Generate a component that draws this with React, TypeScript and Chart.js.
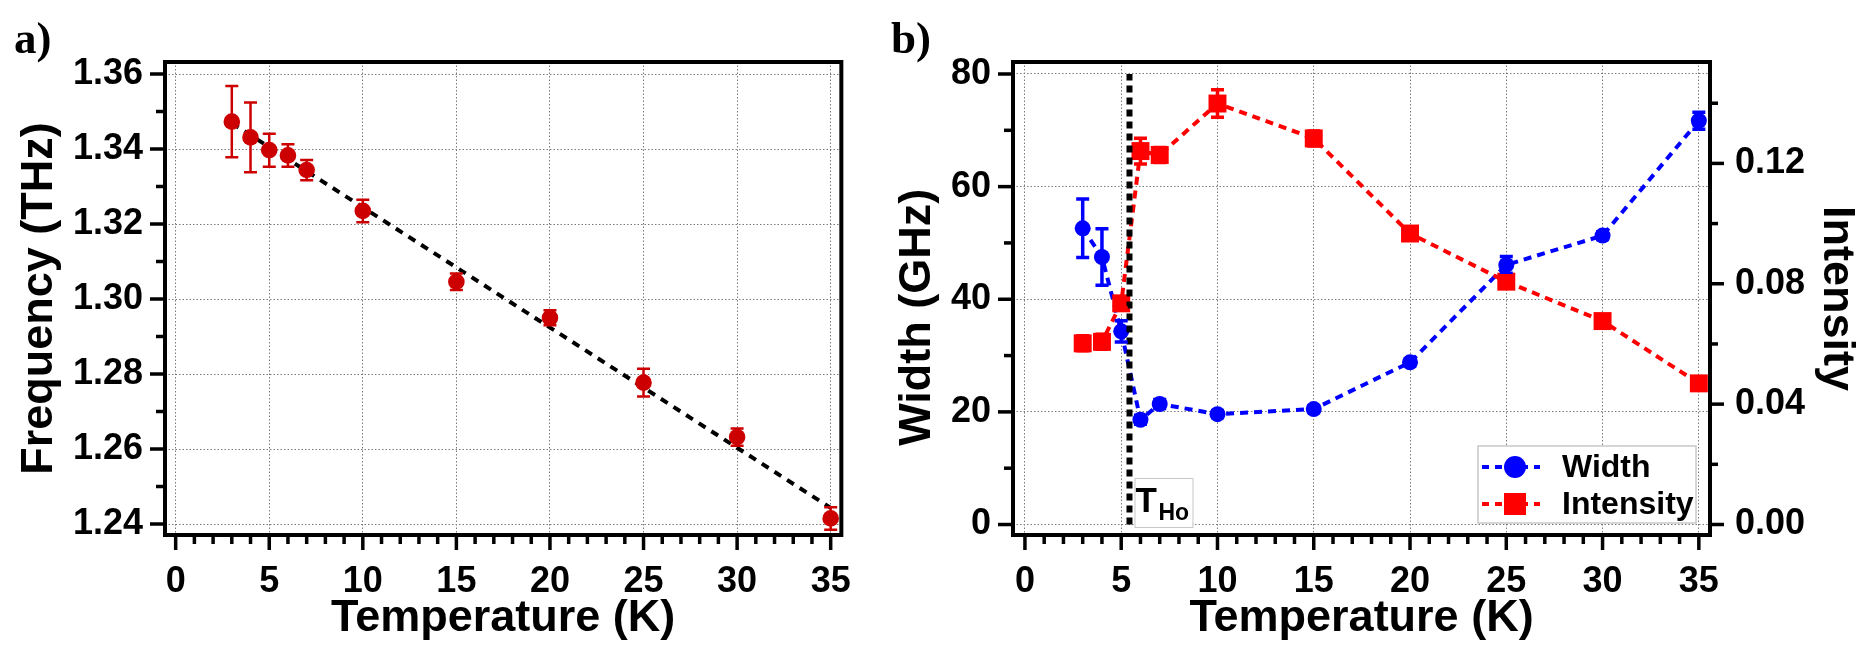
import React, { useEffect, useRef } from 'react';
import { Chart, registerables } from 'chart.js';

Chart.register(...registerables);

const FONT = "'Liberation Sans', Arial, Helvetica, sans-serif";
const SERIF = "'Liberation Serif', 'Times New Roman', serif";

// ---------- Panel a) ----------
const tempsA = [3, 4, 5, 6, 7, 10, 15, 20, 25, 30, 35];
const freqTHz = [1.3473, 1.3431, 1.3397, 1.3383, 1.3344, 1.3235, 1.3046, 1.295, 1.2777, 1.2632, 1.2415];
const freqErr = [0.0095, 0.0093, 0.0044, 0.003, 0.0027, 0.003, 0.0022, 0.002, 0.0037, 0.0023, 0.003];
const fitTemps = [3, 35];
const fitFreq = [1.3469, 1.2443];
const freqTicks = [1.24, 1.26, 1.28, 1.3, 1.32, 1.34, 1.36];
const freqMinorTicks = [1.25, 1.27, 1.29, 1.31, 1.33, 1.35];

// ---------- shared x ticks ----------
const tempTicks = [0, 5, 10, 15, 20, 25, 30, 35];
const tempMinorTicks = [1, 2, 3, 4, 6, 7, 8, 9, 11, 12, 13, 14, 16, 17, 18, 19, 21, 22, 23, 24, 26, 27, 28, 29, 31, 32, 33, 34];

// ---------- Panel b) ----------
const tempsB = [3, 4, 5, 6, 7, 10, 15, 20, 25, 30, 35];
const widthGHz = [52.6, 47.5, 34.3, 18.6, 21.4, 19.6, 20.5, 28.8, 46.1, 51.3, 71.7];
const widthErr = [5.2, 5.0, 1.9, 0.8, 0.8, 0.6, 0.6, 0.6, 1.5, 0.7, 1.5];
const intensity = [0.0602, 0.0607, 0.0735, 0.1241, 0.1228, 0.1399, 0.1283, 0.0967, 0.0807, 0.0676, 0.0469];
const intensityErr = [0.0025, 0.0025, 0.0015, 0.0043, 0.0025, 0.0046, 0.0025, 0.001, 0.002, 0.001, 0.001];
const widthTicks = [0, 20, 40, 60, 80];
const widthMinorTicks = [10, 30, 50, 70];
const intensityTicks = [0, 0.04, 0.08, 0.12];
const intensityMinorTicks = [0.02, 0.06, 0.1, 0.14];
const tHo = 5.43;
const tHoSpan = [0, 80];

const RED_A = '#cc0000';
const RED_B = '#ff0000';
const BLUE_B = '#0000ff';

const tickFont = { family: FONT, size: 36, weight: 'bold' as const, lineHeight: 1 };
const titleFont = { family: FONT, size: 45, weight: 'bold' as const, lineHeight: 1 };
const gridOpts = { color: '#7a7a7a', lineWidth: 1, drawTicks: false };
const borderOpts = { display: false, dash: [1.5, 2] };

const pts = (xs: number[], ys: number[]) => xs.map((x, i) => ({ x, y: ys[i] }));
const setTicks = (vals: number[]) => (s: any) => {
  s.ticks = vals.map((v) => ({ value: v }));
};

// ---------- plugins ----------
const axisDecor = {
  id: 'axisDecor',
  afterDraw(chart: any, _a: any, opts: any) {
    const { ctx, chartArea } = chart;
    const { left, right, top, bottom } = chartArea;
    ctx.save();
    ctx.strokeStyle = '#000';
    ctx.lineCap = 'butt';
    ctx.lineWidth = 3.5;
    for (const spec of opts.ticks) {
      const scale = chart.scales[spec.axis];
      const draw = (v: number, len: number) => {
        const p = scale.getPixelForValue(v);
        ctx.beginPath();
        if (spec.side === 'bottom') {
          ctx.moveTo(p, bottom);
          ctx.lineTo(p, bottom + len);
        } else if (spec.side === 'left') {
          ctx.moveTo(left, p);
          ctx.lineTo(left - len, p);
        } else {
          ctx.moveTo(right, p);
          ctx.lineTo(right + len, p);
        }
        ctx.stroke();
      };
      spec.major.forEach((v: number) => draw(v, spec.majorLen));
      spec.minor.forEach((v: number) => draw(v, spec.minorLen));
    }
    ctx.lineWidth = 4;
    ctx.strokeRect(left, top, right - left, bottom - top);
    ctx.fillStyle = '#000';
    ctx.font = `bold 45px ${SERIF}`;
    ctx.textAlign = 'left';
    ctx.textBaseline = 'alphabetic';
    ctx.fillText(opts.panelLabel, opts.panelX, opts.panelY);
    ctx.restore();
  },
};

const errorBars = {
  id: 'errorBars',
  afterDatasetsDraw(chart: any, _a: any, opts: any) {
    const { ctx, chartArea } = chart;
    const xs = chart.scales.x;
    ctx.save();
    ctx.beginPath();
    ctx.rect(chartArea.left, chartArea.top, chartArea.right - chartArea.left, chartArea.bottom - chartArea.top);
    ctx.clip();
    for (const s of opts.sets) {
      const ys = chart.scales[s.axis];
      ctx.strokeStyle = s.color;
      ctx.lineWidth = s.lineWidth;
      s.x.forEach((xv: number, i: number) => {
        const px = xs.getPixelForValue(xv);
        const hi = ys.getPixelForValue(s.y[i] + s.err[i]);
        const lo = ys.getPixelForValue(s.y[i] - s.err[i]);
        ctx.beginPath();
        ctx.moveTo(px, hi);
        ctx.lineTo(px, lo);
        ctx.moveTo(px - s.cap, hi);
        ctx.lineTo(px + s.cap, hi);
        ctx.moveTo(px - s.cap, lo);
        ctx.lineTo(px + s.cap, lo);
        ctx.stroke();
      });
    }
    ctx.restore();
  },
};

const annotationsB = {
  id: 'annotationsB',
  afterDraw(chart: any) {
    const { ctx, chartArea } = chart;
    const xs = chart.scales.x;
    ctx.save();
    // T_Ho label box
    const lx = xs.getPixelForValue(tHo) + 5;
    const by = chartArea.bottom - 8;
    ctx.fillStyle = '#fff';
    ctx.fillRect(lx, by - 49, 58, 49);
    ctx.strokeStyle = '#c8c8c8';
    ctx.lineWidth = 1;
    ctx.strokeRect(lx + 0.5, by - 49 + 0.5, 58, 49);
    ctx.fillStyle = '#000';
    ctx.textAlign = 'left';
    ctx.textBaseline = 'alphabetic';
    ctx.font = `bold 35px ${FONT}`;
    ctx.fillText('T', lx + 1, by - 15);
    ctx.font = `bold 23px ${FONT}`;
    ctx.fillText('Ho', lx + 24, by - 7);

    // legend
    const w = 218;
    const h = 77;
    const x0 = chartArea.right - 14 - w;
    const y0 = chartArea.bottom - 12 - h;
    ctx.fillStyle = '#fff';
    ctx.fillRect(x0, y0, w, h);
    ctx.strokeStyle = '#c8c8c8';
    ctx.lineWidth = 1.5;
    ctx.strokeRect(x0, y0, w, h);
    const items = [
      { label: 'Width', color: BLUE_B, style: 'circle', dy: 21 },
      { label: 'Intensity', color: RED_B, style: 'rect', dy: 58 },
    ];
    for (const it of items) {
      const cy = y0 + it.dy;
      ctx.strokeStyle = it.color;
      ctx.lineWidth = 4;
      ctx.setLineDash([7, 6]);
      ctx.beginPath();
      ctx.moveTo(x0 + 4, cy);
      ctx.lineTo(x0 + 62, cy);
      ctx.stroke();
      ctx.setLineDash([]);
      ctx.fillStyle = it.color;
      const mx = x0 + 37;
      ctx.beginPath();
      if (it.style === 'circle') {
        ctx.arc(mx, cy, 11, 0, Math.PI * 2);
      } else {
        ctx.rect(mx - 11, cy - 11, 22, 22);
      }
      ctx.fill();
      ctx.fillStyle = '#000';
      ctx.font = `bold 32px ${FONT}`;
      ctx.textBaseline = 'middle';
      ctx.fillText(it.label, x0 + 84, cy + 1);
    }
    ctx.restore();
  },
};

// ---------- configs ----------
function configA(): any {
  return {
    type: 'line',
    data: {
      datasets: [
        {
          label: 'Linear fit',
          data: pts(fitTemps, fitFreq),
          borderColor: '#000',
          borderWidth: 4,
          borderDash: [8, 7],
          pointRadius: 0,
          fill: false,
          order: 2,
        },
        {
          label: 'Frequency',
          data: pts(tempsA, freqTHz),
          showLine: false,
          pointRadius: 8.3,
          pointBackgroundColor: RED_A,
          pointBorderColor: RED_A,
          pointBorderWidth: 0,
          order: 1,
        },
      ],
    },
    options: {
      animation: false,
      responsive: false,
      maintainAspectRatio: false,
      events: [],
      layout: { padding: { top: 62, right: 19, left: 0, bottom: 0 } },
      plugins: {
        legend: { display: false },
        tooltip: { enabled: false },
        axisDecor: {
          panelLabel: 'a)',
          panelX: 14,
          panelY: 53,
          ticks: [
            { axis: 'x', side: 'bottom', major: tempTicks, minor: tempMinorTicks, majorLen: 15, minorLen: 9 },
            { axis: 'y', side: 'left', major: freqTicks, minor: freqMinorTicks, majorLen: 15, minorLen: 9 },
          ],
        },
        errorBars: {
          sets: [{ axis: 'y', x: tempsA, y: freqTHz, err: freqErr, color: RED_A, lineWidth: 2.5, cap: 6.5 }],
        },
      },
      scales: {
        x: {
          type: 'linear',
          min: -0.57,
          max: 35.57,
          afterBuildTicks: setTicks(tempTicks),
          afterFit: (s: any) => {
            s.height = 110;
          },
          grid: gridOpts,
          border: borderOpts,
          ticks: { padding: 29, font: tickFont, color: '#000', maxRotation: 0, autoSkip: false, callback: (v: any) => String(v) },
          title: { display: true, text: 'Temperature (K)', font: titleFont, color: '#000', padding: { top: 0, bottom: 4 } },
        },
        y: {
          type: 'linear',
          min: 1.23707,
          max: 1.3632,
          afterBuildTicks: setTicks(freqTicks),
          afterFit: (s: any) => {
            s.width = 165;
          },
          grid: gridOpts,
          border: borderOpts,
          ticks: { padding: 22, font: tickFont, color: '#000', autoSkip: false, callback: (v: any) => Number(v).toFixed(2) },
          title: { display: true, text: 'Frequency (THz)', font: titleFont, color: '#000', padding: { top: 17.5, bottom: 0 } },
        },
      },
    },
    plugins: [errorBars, axisDecor],
  };
}

function configB(): any {
  return {
    type: 'line',
    data: {
      datasets: [
        {
          label: 'T_Ho',
          data: [
            { x: tHo, y: tHoSpan[0] },
            { x: tHo, y: tHoSpan[1] },
          ],
          yAxisID: 'yW',
          borderColor: '#000',
          borderWidth: 6,
          borderDash: [7, 5],
          pointRadius: 0,
          fill: false,
          order: 0,
        },
        {
          label: 'Intensity',
          data: pts(tempsB, intensity),
          yAxisID: 'yI',
          borderColor: RED_B,
          borderWidth: 4,
          borderDash: [8, 6],
          pointStyle: 'rect',
          pointRadius: 12.7,
          pointBackgroundColor: RED_B,
          pointBorderColor: RED_B,
          pointBorderWidth: 0,
          fill: false,
          tension: 0,
          order: 1,
        },
        {
          label: 'Width',
          data: pts(tempsB, widthGHz),
          yAxisID: 'yW',
          borderColor: BLUE_B,
          borderWidth: 4,
          borderDash: [8, 6],
          pointStyle: 'circle',
          pointRadius: 8,
          pointBackgroundColor: BLUE_B,
          pointBorderColor: BLUE_B,
          pointBorderWidth: 0,
          fill: false,
          tension: 0,
          order: 2,
        },
      ],
    },
    options: {
      animation: false,
      responsive: false,
      maintainAspectRatio: false,
      events: [],
      layout: { padding: { top: 62, right: 0, left: 0, bottom: 0 } },
      plugins: {
        legend: { display: false },
        tooltip: { enabled: false },
        axisDecor: {
          panelLabel: 'b)',
          panelX: 11,
          panelY: 53,
          ticks: [
            { axis: 'x', side: 'bottom', major: tempTicks, minor: tempMinorTicks, majorLen: 15, minorLen: 9 },
            { axis: 'yW', side: 'left', major: widthTicks, minor: widthMinorTicks, majorLen: 15, minorLen: 9 },
            { axis: 'yI', side: 'right', major: intensityTicks, minor: intensityMinorTicks, majorLen: 14, minorLen: 8 },
          ],
        },
        errorBars: {
          sets: [
            { axis: 'yW', x: tempsB, y: widthGHz, err: widthErr, color: BLUE_B, lineWidth: 3.5, cap: 6.5 },
            { axis: 'yI', x: tempsB, y: intensity, err: intensityErr, color: RED_B, lineWidth: 3.5, cap: 6.5 },
          ],
        },
      },
      scales: {
        x: {
          type: 'linear',
          min: -0.62,
          max: 35.58,
          afterBuildTicks: setTicks(tempTicks),
          afterFit: (s: any) => {
            s.height = 110;
          },
          grid: gridOpts,
          border: borderOpts,
          ticks: { padding: 29, font: tickFont, color: '#000', maxRotation: 0, autoSkip: false, callback: (v: any) => String(v) },
          title: { display: true, text: 'Temperature (K)', font: titleFont, color: '#000', padding: { top: 0, bottom: 4 } },
        },
        yW: {
          type: 'linear',
          position: 'left',
          min: -1.86,
          max: 82.13,
          afterBuildTicks: setTicks(widthTicks),
          afterFit: (s: any) => {
            s.width = 133;
          },
          grid: gridOpts,
          border: borderOpts,
          ticks: { padding: 22, font: tickFont, color: '#000', autoSkip: false, callback: (v: any) => String(v) },
          title: { display: true, text: 'Width (GHz)   ', font: titleFont, color: '#000', padding: { top: 15.5, bottom: 0 } },
        },
        yI: {
          type: 'linear',
          position: 'right',
          min: -0.00349,
          max: 0.1537,
          afterBuildTicks: setTicks(intensityTicks),
          afterFit: (s: any) => {
            s.width = 165;
          },
          grid: { display: false, drawTicks: false },
          border: { display: false },
          ticks: { padding: 25, font: tickFont, color: '#000', autoSkip: false, callback: (v: any) => Number(v).toFixed(2) },
          title: { display: true, text: 'Intensity', font: titleFont, color: '#000', padding: { top: 16.5, bottom: 0 } },
        },
      },
    },
    plugins: [errorBars, annotationsB, axisDecor],
  };
}

function ChartCanvas(props: { make: () => any; left: number; width: number; height: number }) {
  const ref = useRef<HTMLCanvasElement | null>(null);
  useEffect(() => {
    if (!ref.current) return;
    const chart = new Chart(ref.current, props.make());
    return () => chart.destroy();
  }, []);
  return (
    <canvas
      ref={ref}
      width={props.width}
      height={props.height}
      style={{ position: 'absolute', left: props.left, top: 0, width: props.width, height: props.height }}
    />
  );
}

export default function App() {
  return (
    <div style={{ position: 'fixed', left: 0, top: 0, width: 1875, height: 645, background: '#fff', overflow: 'hidden' }}>
      <ChartCanvas make={configA} left={0} width={880} height={645} />
      <ChartCanvas make={configB} left={880} width={995} height={645} />
    </div>
  );
}
